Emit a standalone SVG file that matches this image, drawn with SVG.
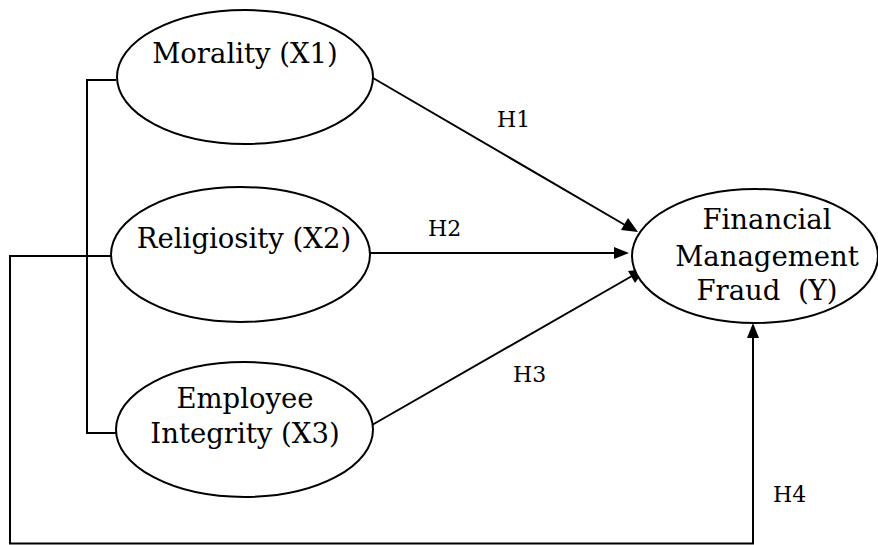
<svg xmlns="http://www.w3.org/2000/svg" width="878" height="545" viewBox="0 0 878 545">
<style>
  .node { fill: #ffffff; stroke: #000000; stroke-width: 2; }
  .lbl { font-family: "DejaVu Serif", "Liberation Serif", serif; font-size: 27.5px; fill: #000000; text-anchor: middle; }
  .h { font-family: "DejaVu Serif", "Liberation Serif", serif; font-size: 22px; fill: #000000; }
  .edge { fill: none; stroke: #000000; stroke-width: 2; }
</style>
<rect width="878" height="545" fill="#ffffff"/>
<g id="connectors">
  <path class="edge" d="M116,80 H87 V433 H118"/>
  <path class="edge" d="M111,256 H10 V543.5 H753 V338"/>
  <path class="edge" d="M373,78 L625,225"/>
  <path class="edge" d="M370,253 L615,253"/>
  <path class="edge" d="M372,425 L632,276"/>
  <path d="M753,323 L759,338 L747,338 Z" fill="#000"/>
  <path d="M638,232 L621,230 L628,218 Z" fill="#000"/>
  <path d="M629,253 L614,247 L614,259 Z" fill="#000"/>
  <path d="M645,269 L635,283 L628,271 Z" fill="#000"/>
  <text class="h" x="497" y="127">H1</text>
  <text class="h" x="428" y="236">H2</text>
  <text class="h" x="513" y="382">H3</text>
  <text class="h" x="773" y="502">H4</text>
</g>
<g id="morality">
  <ellipse class="node" cx="245" cy="77" rx="128" ry="67"/>
  <text class="lbl" x="245" y="63">Morality (X1)</text>
</g>
<g id="religiosity">
  <ellipse class="node" cx="240.5" cy="254.5" rx="129.5" ry="67.5"/>
  <text class="lbl" x="244" y="248">Religiosity (X2)</text>
</g>
<g id="integrity">
  <ellipse class="node" cx="244.5" cy="429.5" rx="128.5" ry="67.5"/>
  <text class="lbl" x="245" y="408">Employee</text>
  <text class="lbl" x="245" y="443">Integrity (X3)</text>
</g>
<g id="fraud">
  <ellipse class="node" cx="755" cy="256" rx="123" ry="67"/>
  <text class="lbl" x="767" y="229">Financial</text>
  <text class="lbl" x="767" y="266">Management</text>
  <text class="lbl" x="767" y="300" xml:space="preserve">Fraud  (Y)</text>
</g>
</svg>
